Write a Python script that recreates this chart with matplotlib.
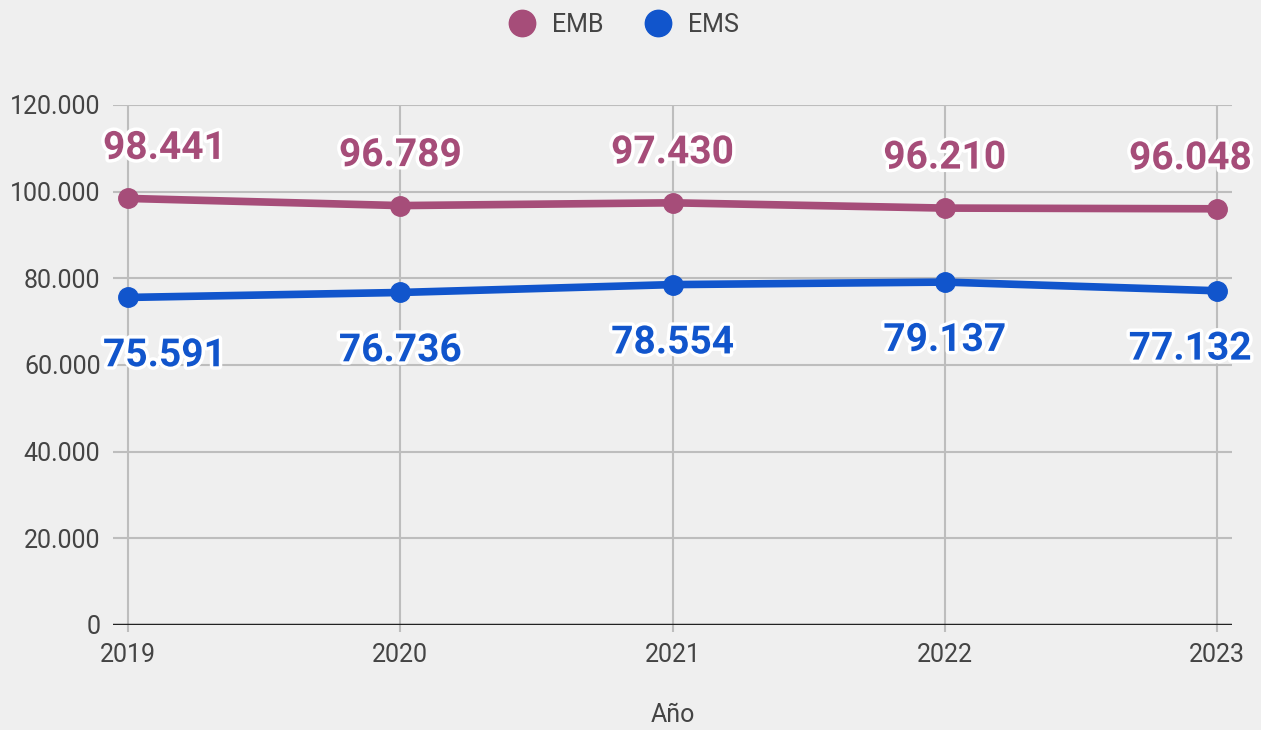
import matplotlib
matplotlib.use("Agg")
import matplotlib.pyplot as plt
import matplotlib.patheffects as pe
from matplotlib.lines import Line2D
from matplotlib.ticker import FuncFormatter

years = [2019, 2020, 2021, 2022, 2023]
emb = [98441, 96789, 97430, 96210, 96048]
ems = [75591, 76736, 78554, 79137, 77132]
y_ticks = [0, 20000, 40000, 60000, 80000, 100000, 120000]

c_emb = "#a64d79"
c_ems = "#1155cc"
bg = "#efefef"
txt = "#444444"
grid_c = "#bdbdbd"

plt.rcParams["font.family"] = ["Roboto", "DejaVu Sans"]

fig = plt.figure(figsize=(12.61, 7.30), dpi=100, facecolor=bg)
ax = fig.add_axes([113 / 1261, 105 / 730, 1119 / 1261, 520 / 730])
ax.set_facecolor(bg)

ax.set_xlim(years[0] - 15 / 272.25, years[-1] + 15 / 272.25)
ax.set_ylim(0, 120000)

for y in y_ticks[1:]:
    ax.axhline(y, color=grid_c, lw=1.5, zorder=1)
for x in years:
    ax.axvline(x, color=grid_c, lw=1.5, zorder=1)
ax.axhline(0, color="#222222", lw=2.5, zorder=2)

for s in ax.spines.values():
    s.set_visible(False)

ax.set_yticks(y_ticks)
ax.yaxis.set_major_formatter(FuncFormatter(lambda v, p: f"{int(v):,}".replace(",", ".")))
ax.tick_params(axis="y", length=0, pad=9, labelsize=18, labelcolor=txt)
ax.set_xticks(years)
ax.tick_params(axis="x", length=5, width=1.5, color=grid_c, pad=8, labelsize=18, labelcolor=txt)
ax.set_xlabel("Año", fontsize=18, color=txt, labelpad=26)

ax.plot(years, emb, color=c_emb, lw=5.5, marker="o", ms=14, zorder=4)
ax.plot(years, ems, color=c_ems, lw=5.5, marker="o", ms=14, zorder=4)

stroke = [pe.withStroke(linewidth=5, foreground="white")]


def label(xv, yv, color, dy):
    s = f"{yv:,}".replace(",", ".")
    if xv == years[0]:
        ha, dx = "left", -18
    elif xv == years[-1]:
        ha, dx = "right", 25
    else:
        ha, dx = "center", 0
    ax.annotate(s, (xv, yv), xytext=(dx, dy), textcoords="offset points",
                ha=ha, va="center", fontsize=28, fontweight="bold", color=color,
                path_effects=stroke, zorder=5, annotation_clip=False)


for xv, yv in zip(years, emb):
    label(xv, yv, c_emb, 36)
for xv, yv in zip(years, ems):
    label(xv, yv, c_ems, -42)

handles = [
    Line2D([], [], ls="none", marker="o", ms=19, color=c_emb, label="EMB"),
    Line2D([], [], ls="none", marker="o", ms=19, color=c_ems, label="EMS"),
]
fig.legend(handles=handles, loc="upper center", bbox_to_anchor=(0.494, 1.013), ncol=2,
           frameon=False, fontsize=18, labelcolor=txt, handletextpad=0.6,
           columnspacing=1.6, handlelength=1.2)

fig.savefig("out.png", dpi=100, facecolor=bg)
